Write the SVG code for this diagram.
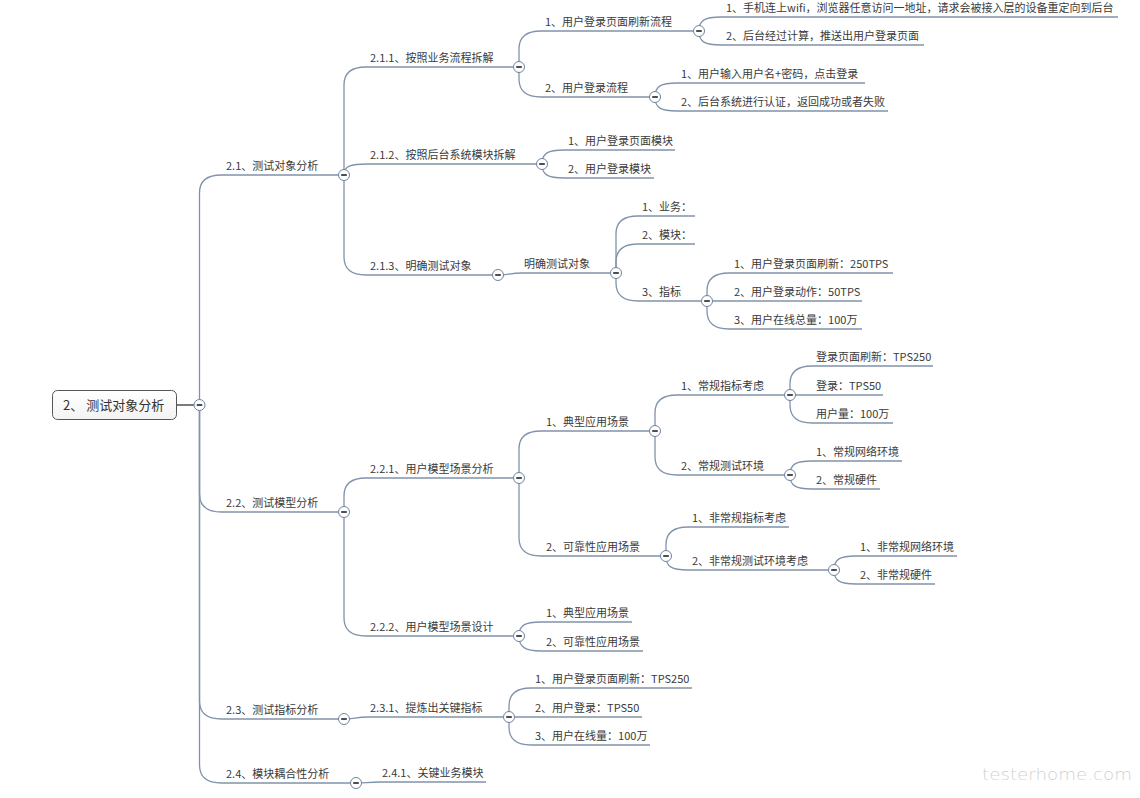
<svg xmlns="http://www.w3.org/2000/svg" width="1140" height="798" viewBox="0 0 1140 798">
<style>
.t{font-family:"Noto Sans CJK SC","Microsoft YaHei",sans-serif;font-size:11px;fill:#3a3a3a}
.rt{font-family:"Noto Sans CJK SC","Microsoft YaHei",sans-serif;font-size:13px;fill:#333}
.c path{fill:none;stroke:#8193ab;stroke-width:1.3}
.tg circle{fill:#fff;stroke:#6d84a0;stroke-width:1}
.tg line{stroke:#222;stroke-width:1.6}
.wm{font-family:"DejaVu Sans",sans-serif;font-size:16px;fill:#d2d2d2;font-weight:200}
</style>
<defs>
<g id="tog" class="tg"><circle cx="0" cy="0" r="5.5"/><line x1="-2.8" y1="0" x2="2.8" y2="0"/></g>
<linearGradient id="rg" x1="0" y1="0" x2="0" y2="1"><stop offset="0" stop-color="#ffffff"/><stop offset="1" stop-color="#f3f3f3"/></linearGradient>
</defs>
<rect width="1140" height="798" fill="#fff"/>
<g id="connectors" class="c">
<path d="M177 405 H194" style="stroke:#333"/>
<path d="M199.5 405 V193 Q199.5 175 221.5 175 H338.5"/>
<path d="M199.5 405 V494 Q199.5 512 221.5 512 H338.5"/>
<path d="M199.5 405 V701 Q199.5 719 221.5 719 H338.5"/>
<path d="M199.5 405 V765 Q199.5 783 221.5 783 H350.5"/>
<path d="M344 175 V85 Q344 67 366 67 H513.5"/>
<path d="M344 175 C344 166 350 164 368 164 H536.5"/>
<path d="M344 175 V257 Q344 275 366 275 H492.5"/>
<path d="M519 67 V49 Q519 31 541 31 H693.5"/>
<path d="M519 67 V79 Q519 97 541 97 H649.5"/>
<path d="M699 31 C699 20 705 17 721 17 H1118"/>
<path d="M699 31 C699 42 705 45 721 45 H924"/>
<path d="M655 97 C655 86 661 83 677 83 H865"/>
<path d="M655 97 C655 108 661 111 677 111 H888"/>
<path d="M542 164 C542 153 548 150 564 150 H675"/>
<path d="M542 164 C542 175 548 178 564 178 H654"/>
<path d="M498 275 C508 275 510 273 522 273 H610.5"/>
<path d="M616 273 V234 Q616 216 638 216 H695"/>
<path d="M616 273 V262 Q616 244 638 244 H695"/>
<path d="M616 273 V283 Q616 301 638 301 H701.5"/>
<path d="M707 301 V291 Q707 273 729 273 H893"/>
<path d="M707 301 H862"/>
<path d="M707 301 V311 Q707 329 729 329 H862"/>
<path d="M344 512 V496 Q344 478 366 478 H513.5"/>
<path d="M344 512 V618 Q344 636 366 636 H513.5"/>
<path d="M519 478 V449 Q519 431 541 431 H649.5"/>
<path d="M519 478 V538 Q519 556 541 556 H660.5"/>
<path d="M655 431 V413 Q655 395 677 395 H784.5"/>
<path d="M655 431 V457 Q655 475 677 475 H784.5"/>
<path d="M790 395 V384 Q790 366 812 366 H933"/>
<path d="M790 395 H883"/>
<path d="M790 395 V405 Q790 423 812 423 H893"/>
<path d="M790 475 C790 464 796 461 812 461 H902"/>
<path d="M790 475 C790 486 796 489 812 489 H880"/>
<path d="M666 556 V545 Q666 527 688 527 H789"/>
<path d="M666 556 C666 567 672 570 688 570 H828.5"/>
<path d="M834 570 C834 559 840 556 856 556 H957"/>
<path d="M834 570 C834 581 840 584 856 584 H935"/>
<path d="M519 636 C519 625 525 622 541 622 H632"/>
<path d="M519 636 C519 647 525 651 541 651 H643"/>
<path d="M344 719 C354 719 356 717 368 717 H503.5"/>
<path d="M509 717 V706 Q509 688 531 688 H692"/>
<path d="M509 717 H642"/>
<path d="M509 717 V727 Q509 745 531 745 H650"/>
<path d="M356 783 C366 783 368 782 380 782 H486"/>
</g>
<g id="n-root"><rect x="52.5" y="390.5" width="124" height="29" rx="5" fill="url(#rg)" stroke="#555" stroke-width="1"/><text class="rt" x="63" y="410">2、 测试对象分析</text><use href="#tog" x="199.5" y="405"/></g>
<g id="n-2-1"><text class="t" x="226" y="170">2.1、测试对象分析</text><use href="#tog" x="344" y="175"/></g>
<g id="n-2-1-1"><text class="t" x="370" y="62">2.1.1、按照业务流程拆解</text><use href="#tog" x="519" y="67"/></g>
<g id="n-2-1-1-1"><text class="t" x="545" y="26">1、用户登录页面刷新流程</text><use href="#tog" x="699" y="31"/></g>
<g id="n-2-1-1-1-1"><text class="t" x="726" y="12">1、手机连上wifi，浏览器任意访问一地址，请求会被接入层的设备重定向到后台</text></g>
<g id="n-2-1-1-1-2"><text class="t" x="726" y="40">2、后台经过计算，推送出用户登录页面</text></g>
<g id="n-2-1-1-2"><text class="t" x="545" y="92">2、用户登录流程</text><use href="#tog" x="655" y="97"/></g>
<g id="n-2-1-1-2-1"><text class="t" x="681" y="78">1、用户输入用户名+密码，点击登录</text></g>
<g id="n-2-1-1-2-2"><text class="t" x="681" y="106">2、后台系统进行认证，返回成功或者失败</text></g>
<g id="n-2-1-2"><text class="t" x="370" y="159">2.1.2、按照后台系统模块拆解</text><use href="#tog" x="542" y="164"/></g>
<g id="n-2-1-2-1"><text class="t" x="568" y="145">1、用户登录页面模块</text></g>
<g id="n-2-1-2-2"><text class="t" x="568" y="173">2、用户登录模块</text></g>
<g id="n-2-1-3"><text class="t" x="370" y="270">2.1.3、明确测试对象</text><use href="#tog" x="498" y="275"/></g>
<g id="n-2-1-3-1"><text class="t" x="524" y="268">明确测试对象</text><use href="#tog" x="616" y="273"/></g>
<g id="n-biz"><text class="t" x="642" y="211">1、业务：</text></g>
<g id="n-mod"><text class="t" x="642" y="239">2、模块：</text></g>
<g id="n-idx"><text class="t" x="642" y="296">3、指标</text><use href="#tog" x="707" y="301"/></g>
<g id="n-idx-1"><text class="t" x="734" y="268">1、用户登录页面刷新：250TPS</text></g>
<g id="n-idx-2"><text class="t" x="734" y="296">2、用户登录动作：50TPS</text></g>
<g id="n-idx-3"><text class="t" x="734" y="324">3、用户在线总量：100万</text></g>
<g id="n-2-2"><text class="t" x="226" y="507">2.2、测试模型分析</text><use href="#tog" x="344" y="512"/></g>
<g id="n-2-2-1"><text class="t" x="370" y="473">2.2.1、用户模型场景分析</text><use href="#tog" x="519" y="478"/></g>
<g id="n-2-2-1-1"><text class="t" x="546" y="426">1、典型应用场景</text><use href="#tog" x="655" y="431"/></g>
<g id="n-2-2-1-1-1"><text class="t" x="681" y="390">1、常规指标考虑</text><use href="#tog" x="790" y="395"/></g>
<g id="n-a1"><text class="t" x="816" y="361">登录页面刷新：TPS250</text></g>
<g id="n-a2"><text class="t" x="816" y="390">登录：TPS50</text></g>
<g id="n-a3"><text class="t" x="816" y="418">用户量：100万</text></g>
<g id="n-2-2-1-1-2"><text class="t" x="681" y="470">2、常规测试环境</text><use href="#tog" x="790" y="475"/></g>
<g id="n-b1"><text class="t" x="816" y="456">1、常规网络环境</text></g>
<g id="n-b2"><text class="t" x="816" y="484">2、常规硬件</text></g>
<g id="n-2-2-1-2"><text class="t" x="546" y="551">2、可靠性应用场景</text><use href="#tog" x="666" y="556"/></g>
<g id="n-c1"><text class="t" x="692" y="522">1、非常规指标考虑</text></g>
<g id="n-c2"><text class="t" x="692" y="565">2、非常规测试环境考虑</text><use href="#tog" x="834" y="570"/></g>
<g id="n-d1"><text class="t" x="860" y="551">1、非常规网络环境</text></g>
<g id="n-d2"><text class="t" x="860" y="579">2、非常规硬件</text></g>
<g id="n-2-2-2"><text class="t" x="370" y="631">2.2.2、用户模型场景设计</text><use href="#tog" x="519" y="636"/></g>
<g id="n-e1"><text class="t" x="546" y="617">1、典型应用场景</text></g>
<g id="n-e2"><text class="t" x="546" y="646">2、可靠性应用场景</text></g>
<g id="n-2-3"><text class="t" x="226" y="714">2.3、测试指标分析</text><use href="#tog" x="344" y="719"/></g>
<g id="n-2-3-1"><text class="t" x="370" y="712">2.3.1、提炼出关键指标</text><use href="#tog" x="509" y="717"/></g>
<g id="n-f1"><text class="t" x="535" y="683">1、用户登录页面刷新：TPS250</text></g>
<g id="n-f2"><text class="t" x="535" y="712">2、用户登录：TPS50</text></g>
<g id="n-f3"><text class="t" x="535" y="740">3、用户在线量：100万</text></g>
<g id="n-2-4"><text class="t" x="226" y="778">2.4、模块耦合性分析</text><use href="#tog" x="356" y="783"/></g>
<g id="n-2-4-1"><text class="t" x="382" y="777">2.4.1、关键业务模块</text></g>
<text class="wm" x="982" y="780" textLength="150" lengthAdjust="spacingAndGlyphs">testerhome.com</text>
</svg>
